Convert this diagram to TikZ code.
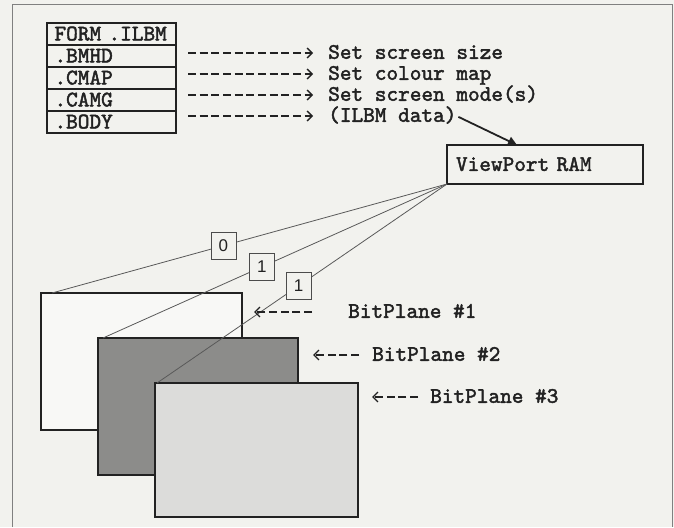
\documentclass[tikz,border=0pt]{standalone}
\usepackage{fontspec}
\setmainfont{Liberation Serif}
\newfontfamily\digitfont{Liberation Sans}
\newfontfamily\typew{lmmono10-regular}[Extension=.otf, FakeBold=2]
\usetikzlibrary{arrows.meta,calc}
\definecolor{paper}{HTML}{F2F2EE}
\definecolor{ink}{HTML}{222222}
\definecolor{darkplane}{HTML}{8C8C8A}
\definecolor{lightplane}{HTML}{DCDCDA}
\begin{document}
\begin{tikzpicture}[x=1pt,y=-1pt,
  monofont/.style={font=\typew\fontsize{22.2}{24}\selectfont, text=ink},
  txt/.style={monofont, inner sep=0pt, text height=11.6pt, text depth=0pt, anchor=west},
  tabrow/.style={monofont, draw=ink, line width=1.3pt, minimum height=22pt, text width=124pt,
    inner xsep=2.5pt, inner ysep=0pt, align=left, text height=12.8pt, text depth=0pt, outer sep=0pt},
  tarrow/.style={draw=ink, line width=1.3pt, dash pattern=on 8pt off 3.67pt,
    -{Straight Barb[length=5pt,width=10pt,line width=1.3pt]}},
  plane/.style={draw=ink, line width=1.6pt, inner sep=0pt, outer sep=0pt, anchor=north west},
  fan/.style={draw=black!65, line width=0.8pt},
  bitbox/.style={draw=black!70, fill=paper, line width=0.8pt, minimum width=25pt, minimum height=27pt,
    inner sep=0pt, font=\digitfont\fontsize{17}{17}\selectfont, text=ink},
  vpbox/.style={monofont, draw=ink, line width=1.8pt, minimum height=39pt, text width=178pt,
    inner xsep=9pt, inner ysep=0pt, align=left, anchor=north west, outer sep=0pt,
    text height=12.8pt, text depth=0pt},
  framestyle/.style={draw=black!50, line width=1pt}
]
\fill[paper] (0,0) rectangle (674,527);
\useasboundingbox (0,0) rectangle (674,527);
\draw[framestyle] (12,527) -- (12,5) -- (672,5) -- (672,527);

% IFF table
\node[tabrow] (form) at (111.5,34)  {\hspace*{5pt}FORM .ILBM};
\node[tabrow] (bmhd) at (111.5,56)  {\hspace*{5pt}.BMHD};
\node[tabrow] (cmap) at (111.5,78)  {\hspace*{5pt}.CMAP};
\node[tabrow] (camg) at (111.5,100) {\hspace*{5pt}.CAMG};
\node[tabrow] (body) at (111.5,122) {\hspace*{5pt}.BODY};

% meanings
\node[txt] (l1) at (328,53)  {Set screen size};
\node[txt] (l2) at (328,74)  {Set colour map};
\node[txt] (l3) at (328,95)  {Set screen mode(s)};
\node[txt] (l4) at (328,116) {(ILBM data)};

\draw[tarrow, shorten <=12pt, shorten >=15pt] (bmhd.east |- l1.west) -- (l1.west);
\draw[tarrow, shorten <=12pt, shorten >=15pt] (cmap.east |- l2.west) -- (l2.west);
\draw[tarrow, shorten <=12pt, shorten >=15pt] (camg.east |- l3.west) -- (l3.west);
\draw[tarrow, shorten <=12pt, shorten >=15pt] (body.east |- l4.west) -- (l4.west);

% ViewPort RAM
\node[vpbox] (vp) at (447,145) {ViewPort RAM};
\coordinate (vpin) at ($(vp.north west)+(70,0)$);
\draw[draw=ink, line width=1.8pt, -{Triangle[length=9pt,width=9pt]}, shorten <=2pt] (l4.east) -- (vpin);

% bit planes
\node[plane, fill=paper!50!white, minimum width=201pt, minimum height=137pt] (bp1) at (41,293) {};
\node[plane, fill=darkplane, minimum width=200pt, minimum height=137pt] (bp2) at (98,338) {};
\node[plane, fill=lightplane, minimum width=203pt, minimum height=134pt] (bp3) at (155,383) {};

% fan lines with bit values
\draw[fan] (vp.south west) -- node[bitbox, pos=0.566] (v0) {0} ([xshift=11pt]bp1.north west);
\draw[fan] (vp.south west) -- node[bitbox, pos=0.538] (v1) {1} ([xshift=5pt]bp2.north west);
\draw[fan] (vp.south west) -- node[bitbox, pos=0.512] (v2) {1} ([xshift=2pt]bp3.north west);

% plane labels
\node[txt] (b1) at (348,312) {BitPlane \#1};
\node[txt] (b2) at (372,355) {BitPlane \#2};
\node[txt] (b3) at (430,397) {BitPlane \#3};
\draw[tarrow, shorten <=36pt, shorten >=12pt] (b1.west) -- (b1.west -| bp1.east);
\draw[tarrow, shorten <=13pt, shorten >=15pt] (b2.west) -- (b2.west -| bp2.east);
\draw[tarrow, shorten <=12pt, shorten >=14pt] (b3.west) -- (b3.west -| bp3.east);
\end{tikzpicture}
\end{document}
